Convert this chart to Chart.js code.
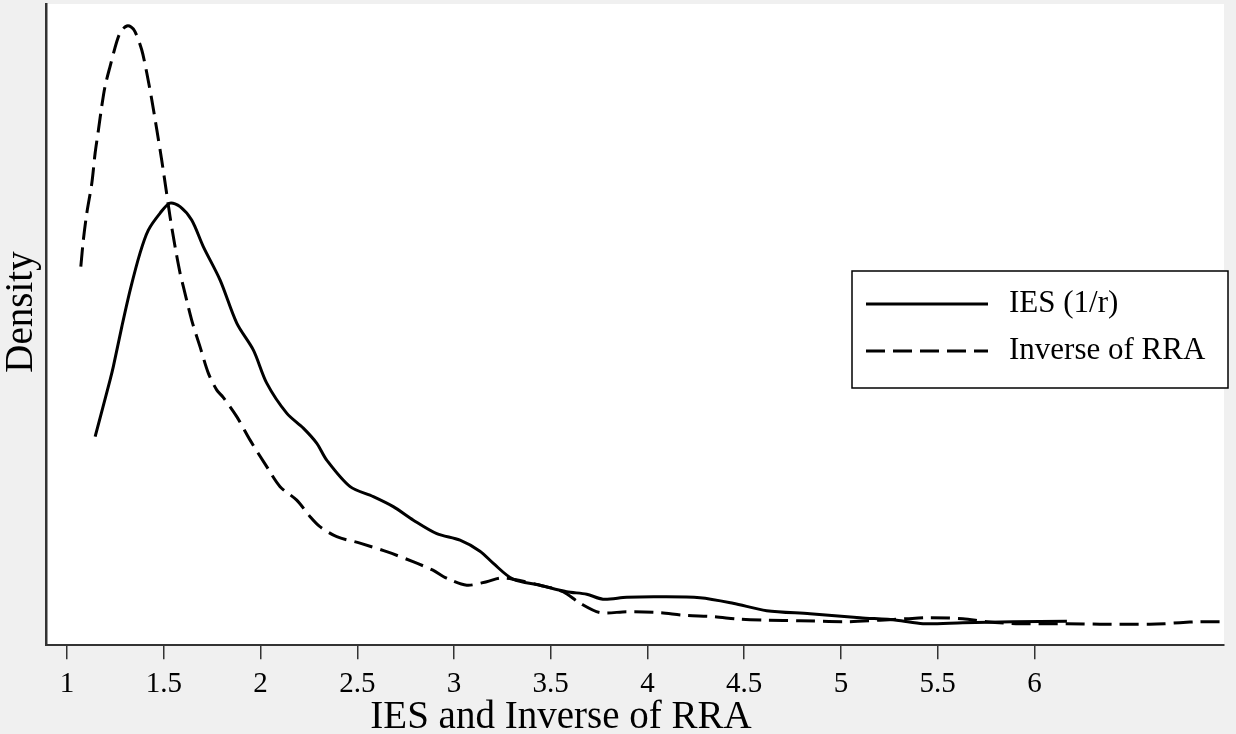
<!DOCTYPE html>
<html lang="en">
<head>
  <meta charset="UTF-8" />
  <title>IES and Inverse of RRA</title>
  <style>
    body {
      margin: 0;
      background-color: #f0f0f0;
    }
    #densityChart {
      display: block;
    }
  </style>
</head>
<body>
  <canvas id="densityChart" width="1236" height="734"></canvas>

  <script src="https://cdn.jsdelivr.net/npm/chart.js"></script>
  <script>
    // kernel density estimates
    const iesX = [1.145, 1.222, 1.239, 1.283, 1.326, 1.377, 1.420, 1.481, 1.532, 1.584,
                  1.644, 1.704, 1.791, 1.877, 1.963, 2.032, 2.135, 2.221, 2.290, 2.342,
                  2.463, 2.583, 2.686, 2.790, 2.911, 3.031, 3.134, 3.202, 3.305, 3.444,
                  3.582, 3.686, 3.770, 3.893, 4.065, 4.271, 4.442, 4.616, 4.840, 5.098,
                  5.288, 5.424, 5.630, 5.889, 6.168];
    const iesY = [0.417, 0.530, 0.557, 0.637, 0.710, 0.784, 0.830, 0.864, 0.884, 0.877,
                  0.850, 0.797, 0.730, 0.644, 0.590, 0.524, 0.464, 0.434, 0.404, 0.370,
                  0.317, 0.297, 0.277, 0.250, 0.223, 0.210, 0.188, 0.164, 0.132, 0.120,
                  0.107, 0.102, 0.092, 0.096, 0.097, 0.095, 0.084, 0.069, 0.063, 0.055,
                  0.050, 0.043, 0.045, 0.047, 0.048];

    const rraX = [1.071, 1.084, 1.102, 1.128, 1.145, 1.162, 1.179, 1.196, 1.222, 1.257,
                  1.279, 1.309, 1.331, 1.351, 1.386, 1.412, 1.438, 1.464, 1.489, 1.512,
                  1.532, 1.558, 1.584, 1.601, 1.644, 1.687, 1.730, 1.774, 1.806, 1.877,
                  1.946, 2.032, 2.101, 2.187, 2.256, 2.307, 2.394, 2.514, 2.652, 2.788,
                  2.891, 2.962, 3.066, 3.169, 3.238, 3.305, 3.444, 3.563, 3.651, 3.755,
                  3.893, 4.065, 4.183, 4.339, 4.478, 4.616, 4.788, 5.029, 5.202, 5.340,
                  5.460, 5.630, 5.753, 5.925, 6.168, 6.339, 6.597, 6.674, 6.752, 6.855,
                  6.959];
    const rraY = [0.757, 0.810, 0.864, 0.924, 0.984, 1.030, 1.077, 1.117, 1.157, 1.207,
                  1.228, 1.238, 1.236, 1.227, 1.190, 1.144, 1.090, 1.030, 0.970, 0.910,
                  0.857, 0.797, 0.744, 0.717, 0.650, 0.597, 0.544, 0.510, 0.496, 0.457,
                  0.410, 0.357, 0.317, 0.290, 0.257, 0.237, 0.217, 0.204, 0.187, 0.167,
                  0.150, 0.134, 0.120, 0.127, 0.134, 0.132, 0.120, 0.107, 0.084, 0.065,
                  0.067, 0.065, 0.060, 0.057, 0.052, 0.050, 0.049, 0.047, 0.050, 0.053,
                  0.055, 0.053, 0.047, 0.043, 0.043, 0.042, 0.042, 0.043, 0.045, 0.047,
                  0.047];

    const tickValues = [1, 1.5, 2, 2.5, 3, 3.5, 4, 4.5, 5, 5.5, 6];
    const tickLabels = ["1", "1.5", "2", "2.5", "3", "3.5", "4", "4.5", "5", "5.5", "6"];

    const xTitle = 'IES and Inverse of RRA';
    const yTitle = 'Density';

    const serif = "'Liberation Serif', 'DejaVu Serif', serif";

    const toPoints = (xs, ys) => xs.map((x, i) => ({ x: x, y: ys[i] }));

    // white plot region on the grey page
    const plotBackground = {
      id: 'plotBackground',
      beforeDraw(chart) {
        const { ctx, chartArea: a } = chart;
        ctx.save();
        ctx.fillStyle = '#ffffff';
        ctx.fillRect(a.left, a.top, a.right - a.left, a.bottom - a.top);
        ctx.restore();
      }
    };

    // axis titles drawn by hand so they can sit where the original has them
    const axisTitles = {
      id: 'axisTitles',
      afterDraw(chart) {
        const { ctx, chartArea: a } = chart;
        ctx.save();
        ctx.fillStyle = '#000';
        ctx.font = '39px ' + serif;
        ctx.textAlign = 'center';
        ctx.textBaseline = 'middle';
        ctx.fillText(xTitle, 561, a.bottom + 73);
        ctx.translate(22, 312);
        ctx.rotate(-Math.PI / 2);
        ctx.fillText(yTitle, 0, 0);
        ctx.restore();
      }
    };

    // boxed legend sitting inside the plot, right side
    const boxLegend = {
      id: 'boxLegend',
      afterDatasetsDraw(chart) {
        const { ctx, chartArea: a } = chart;
        const right = a.right + 4, left = right - 376;
        const top = a.top + 267, bottom = top + 117;
        ctx.save();
        ctx.fillStyle = '#ffffff';
        ctx.fillRect(left, top, right - left, bottom - top);
        ctx.strokeStyle = '#000';
        ctx.lineWidth = 1.5;
        ctx.strokeRect(left, top, right - left, bottom - top);

        ctx.font = '31px ' + serif;
        ctx.textBaseline = 'middle';
        ctx.fillStyle = '#000';
        chart.data.datasets.forEach((ds, i) => {
          const y = top + 33 + i * 47;
          ctx.beginPath();
          ctx.setLineDash(ds.borderDash || []);
          ctx.lineWidth = ds.borderWidth;
          ctx.strokeStyle = ds.borderColor;
          ctx.moveTo(left + 14, y);
          ctx.lineTo(left + 136, y);
          ctx.stroke();
          ctx.setLineDash([]);
          ctx.fillText(ds.label, left + 157, y);
        });
        ctx.restore();
      }
    };

    new Chart(document.getElementById('densityChart'), {
      type: 'line',
      data: {
        datasets: [
          {
            label: 'IES (1/r)',
            data: toPoints(iesX, iesY),
            borderColor: '#000',
            borderWidth: 3,
            pointRadius: 0,
            tension: 0.3,
            fill: false
          },
          {
            label: 'Inverse of RRA',
            data: toPoints(rraX, rraY),
            borderColor: '#000',
            borderWidth: 3,
            borderDash: [19, 8],
            pointRadius: 0,
            tension: 0.3,
            fill: false
          }
        ]
      },
      options: {
        responsive: false,
        animation: false,
        layout: { padding: { top: 4, right: 12, left: 46, bottom: 24 } },
        plugins: {
          legend: { display: false },
          tooltip: { enabled: false }
        },
        scales: {
          x: {
            type: 'linear',
            min: 0.891,
            max: 6.98,
            afterBuildTicks(axis) {
              axis.ticks = tickValues.map(v => ({ value: v }));
            },
            ticks: {
              autoSkip: false,
              maxRotation: 0,
              padding: 8,
              color: '#000',
              font: { family: serif, size: 29 },
              callback: (value, index) => tickLabels[index]
            },
            grid: {
              display: true,
              drawOnChartArea: false,
              drawTicks: true,
              tickLength: 14,
              color: '#333',
              lineWidth: 1.5
            },
            border: { display: true, color: '#333', width: 2 },
            title: { display: false }
          },
          y: {
            min: 0,
            max: 1.282,
            ticks: { display: false },
            grid: { display: false, drawTicks: false },
            border: { display: true, color: '#333', width: 2.5 },
            title: { display: false }
          }
        }
      },
      plugins: [plotBackground, boxLegend, axisTitles]
    });
  </script>
</body>
</html>
